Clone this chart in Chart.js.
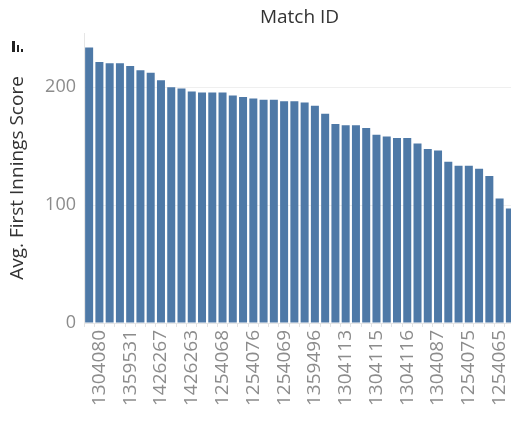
<!DOCTYPE html>
<html>
<head>
<meta charset="utf-8">
<script src="https://cdn.jsdelivr.net/npm/chart.js@4"></script>
<style>
    html, body { margin: 0; padding: 0; background: #fff; overflow: hidden; }
    #wrap { width: 516px; height: 421px; }
</style>
</head>
<body>
<div id="wrap"><canvas id="scoreChart" width="516" height="421"></canvas></div>
<script>
// only every third match id is readable in the picture
const matchIds = [
    "", "1304080", "", "", "1359531", "", "", "1426267", "", "", "1426263", "", "", "1254068",
    "", "", "1254076", "", "", "1254069", "", "", "1359496", "", "", "1304113", "", "",
    "1304115", "", "", "1304116", "", "", "1304087", "", "", "1254075", "", "", "1254065", "",
];
const avgScores = [
    233.6, 221.5, 220.3, 220.3, 218.1, 214.4, 212.2, 205.9, 200.0, 198.9, 196.3, 195.5, 195.5, 195.5,
    193.0, 191.8, 190.4, 189.3, 189.3, 188.1, 188.1, 187.0, 184.2, 177.4, 168.9, 167.8, 167.8, 165.5,
    159.6, 158.2, 157.0, 157.0, 152.3, 147.7, 146.3, 136.7, 133.3, 133.3, 130.8, 124.8, 105.7, 97.2,
];
const yTicks = [0, 100, 200];

const font = "'Open Sans', sans-serif";

// small tableau sort icon next to the axis title
const sortIcon = {
    id: "sortIcon",
    afterDraw(chart) {
        const ctx = chart.ctx;
        ctx.save();
        ctx.fillStyle = "#222";
        ctx.fillRect(12, 41, 3, 11);
        ctx.fillRect(17, 45, 2, 7);
        ctx.fillRect(21, 49, 2, 3);
        ctx.restore();
    },
};

new Chart(document.getElementById("scoreChart").getContext("2d"), {
    type: "bar",
    data: {
        labels: matchIds,
        datasets: [
            {
                label: "Avg. First Innings Score",
                data: avgScores,
                backgroundColor: "#4e79a7",
                borderWidth: 0,
                barPercentage: 0.78,
                categoryPercentage: 1,
            },
        ],
    },
    options: {
        responsive: false,
        animation: false,
        layout: { padding: { left: 0, right: 1, top: 0, bottom: 0 } },
        plugins: {
            legend: { display: false },
            tooltip: { enabled: false },
        },
        scales: {
            x: {
                position: "bottom",
                grid: { display: true, drawOnChartArea: false, tickLength: 4, color: "#e3e3e3" },
                border: { display: true, color: "#e6e6e6" },
                ticks: {
                    autoSkip: false,
                    minRotation: 90,
                    maxRotation: 90,
                    padding: 3,
                    color: "#8c8c8c",
                    font: { family: font, size: 19 },
                },
                afterFit: (scale) => {
                    scale.height = 98;
                    scale.paddingLeft = 0;
                    scale.paddingRight = 0;
                },
            },
            x2: {
                type: "category",
                position: "top",
                labels: matchIds,
                grid: { display: false },
                border: { display: false },
                ticks: { display: false },
                title: {
                    display: true,
                    text: "Match ID",
                    color: "#333",
                    font: { family: font, size: 19 },
                    padding: { top: 6, bottom: 0 },
                },
                afterFit: (scale) => {
                    scale.height = 33;
                    scale.paddingLeft = 0;
                    scale.paddingRight = 0;
                },
            },
            y: {
                min: 0,
                max: 246,
                grid: { color: "#efefef", drawTicks: false },
                border: { display: true, color: "#e6e6e6" },
                afterBuildTicks: (scale) => {
                    scale.ticks = yTicks.map((v) => ({ value: v }));
                },
                ticks: {
                    padding: 8,
                    color: "#8c8c8c",
                    font: { family: font, size: 18 },
                },
                title: {
                    display: true,
                    text: "Avg. First Innings Score",
                    color: "#333",
                    font: { family: font, size: 19 },
                    padding: { top: 6, bottom: 0 },
                },
                afterFit: (scale) => {
                    scale.width = 84;
                    scale.paddingTop = 0;
                    scale.paddingBottom = 0;
                },
            },
        },
    },
    plugins: [sortIcon],
});
</script>
</body>
</html>
